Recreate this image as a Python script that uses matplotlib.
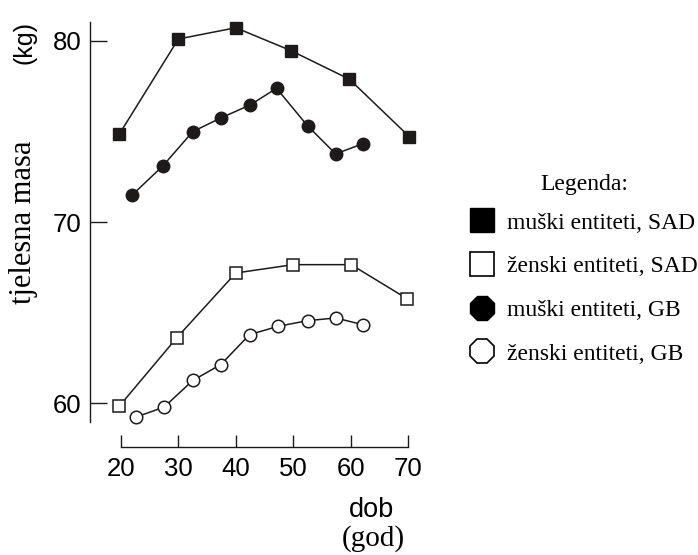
import matplotlib
matplotlib.use('Agg')
import matplotlib.pyplot as plt
from matplotlib.lines import Line2D

plt.rcParams['font.family'] = 'Liberation Sans'
plt.rcParams['axes.linewidth'] = 1.0

# body mass (kg) against age (years)
ages_m_sad = [19.7, 30.0, 40.0, 49.6, 59.8, 70.2]
mass_m_sad = [74.86, 80.11, 80.73, 79.47, 77.89, 74.73]

ages_z_sad = [19.7, 29.7, 40.0, 50.0, 60.1, 69.9]
mass_z_sad = [59.85, 63.62, 67.20, 67.66, 67.66, 65.77]

ages_m_gb = [22.0, 27.3, 32.5, 37.5, 42.5, 47.1, 52.5, 57.4, 62.1]
mass_m_gb = [71.52, 73.11, 75.00, 75.77, 76.47, 77.39, 75.32, 73.77, 74.33]

ages_z_gb = [22.6, 27.5, 32.5, 37.4, 42.4, 47.4, 52.5, 57.4, 62.1]
mass_z_gb = [59.25, 59.80, 61.27, 62.15, 63.80, 64.26, 64.57, 64.72, 64.35]

x_ticks = [20, 30, 40, 50, 60, 70]
y_ticks = [60, 70, 80]

labels = ['muški entiteti, SAD', 'ženski entiteti, SAD',
          'muški entiteti, GB', 'ženski entiteti, GB']

ink = '#1e1a1a'

fig = plt.figure(figsize=(6.98, 5.55), dpi=100)
ax = fig.add_axes([90 / 698, 108 / 555, 335.2 / 698, 433.2 / 555])

ax.plot(ages_m_sad, mass_m_sad, 's-', color=ink, lw=1.1, ms=8.4,
        mfc=ink, mec=ink, mew=1.0)
ax.plot(ages_z_sad, mass_z_sad, 's-', color=ink, lw=1.1, ms=8.4,
        mfc='white', mec=ink, mew=1.1)
ax.plot(ages_m_gb, mass_m_gb, 'o-', color=ink, lw=1.1, ms=9,
        mfc=ink, mec=ink, mew=1.0)
ax.plot(ages_z_gb, mass_z_gb, 'o-', color=ink, lw=1.1, ms=9,
        mfc='white', mec=ink, mew=1.1)

ax.set_xlim(14.6, 73.0)
ax.set_ylim(57.6, 81.5)

ax.spines[['top', 'right']].set_visible(False)
ax.spines['left'].set_bounds(59.0, 81.05)
ax.spines['bottom'].set_bounds(20, 70)
ax.spines[['left', 'bottom']].set_color(ink)

ax.set_xticks(x_ticks)
ax.set_yticks(y_ticks)
ax.tick_params(axis='x', direction='in', length=8.6, width=1.0,
               pad=7, labelsize=18.5, color=ink)
ax.tick_params(axis='y', direction='in', length=12, width=1.0,
               pad=6, labelsize=18.5, color=ink)

# axis titles
fig.text(24 / 698, 1 - 222 / 555, 'tjelesna masa', rotation=90,
         ha='center', va='center', fontsize=22, family='Liberation Serif')
fig.text(24 / 698, 1 - 42 / 555, '(kg)', rotation=90,
         ha='center', va='center', fontsize=18)
fig.text(371 / 698, 1 - 517 / 555, 'dob', ha='center', va='baseline',
         fontsize=19.5)
fig.text(373 / 698, 1 - 546 / 555, '(god)', ha='center', va='baseline',
         fontsize=21, family='Liberation Serif')

# legend, with its heading as a separate text
fig.text(584 / 698, 1 - 185 / 555, 'Legenda:', ha='center', va='center',
         fontsize=17, family='Liberation Serif')

handles = [
    Line2D([], [], ls='none', marker='s', ms=17.5, mfc='black', mec='black'),
    Line2D([], [], ls='none', marker='s', ms=17.5, mfc='white', mec='black', mew=1.2),
    Line2D([], [], ls='none', marker='8', ms=19, mfc='black', mec='black'),
    Line2D([], [], ls='none', marker='8', ms=19, mfc='white', mec='black', mew=1.2),
]
leg = fig.legend(
    handles, labels,
    loc='upper left',
    bbox_to_anchor=(470 / 698, 1 - 212 / 555),
    frameon=False,
    prop={'family': 'Liberation Serif', 'size': 17},
    handlelength=1.0,
    handletextpad=0.55,
    labelspacing=0.94,
    borderpad=0,
    borderaxespad=0,
    numpoints=1,
)

fig.savefig('out.png', dpi=100)
